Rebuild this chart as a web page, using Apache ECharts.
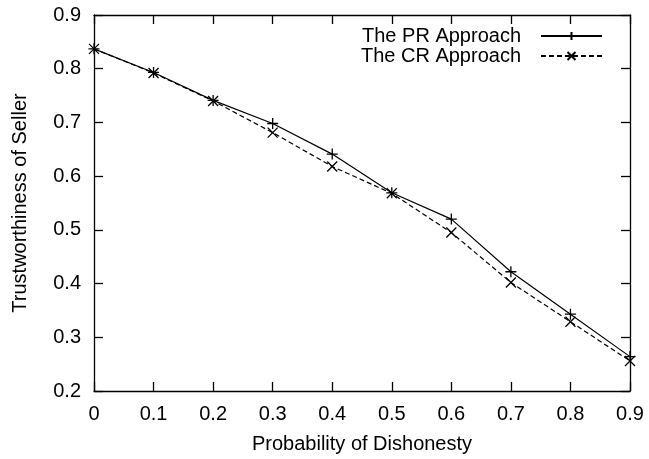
<!DOCTYPE html>
<html>
<head>
<meta charset="utf-8">
<script src="https://cdn.jsdelivr.net/npm/echarts@6/dist/echarts.min.js"></script>
<style>
html,body{margin:0;padding:0;background:#fff;}
#chart{width:649px;height:459px;}
</style>
</head>
<body>
<div id="chart"></div>
<script>
var xValues = [0, 0.1, 0.2, 0.3, 0.4, 0.5, 0.6, 0.7, 0.8, 0.9];
var prValues = [0.837, 0.793, 0.741, 0.698, 0.641, 0.569, 0.520, 0.422, 0.343, 0.264];
var crValues = [0.837, 0.792, 0.740, 0.681, 0.618, 0.568, 0.495, 0.402, 0.329, 0.256];
var seriesNames = ['The PR Approach', 'The CR Approach'];
var xTitle = 'Probability of Dishonesty';
var yTitle = 'Trustworthiness of Seller';

var FONT = 'Liberation Sans';
var FS = 20;
var plusPath = 'path://M5,0L5,10M0,5L10,5';
var crossPath = 'path://M0,0L10,10M10,0L0,10';

function pairs(vals) {
  return xValues.map(function (x, i) { return [x, vals[i]]; });
}
function fmt(v) {
  return v === 0 ? '0' : (Math.round(v * 10) / 10).toFixed(1);
}

var chart = echarts.init(document.getElementById('chart'), null, {renderer: 'canvas'});
var axisCommon = {
  axisLine: {show: true, onZero: false, lineStyle: {color: '#000', width: 1.3}},
  axisTick: {show: true, inside: true, length: 9, lineStyle: {color: '#000', width: 1.3}},
  splitLine: {show: false}
};
chart.setOption({
  animation: false,
  backgroundColor: '#fff',
  textStyle: {fontFamily: FONT, color: '#000'},
  grid: {left: 94, right: 19, top: 15, bottom: 68},
  legend: {
    orient: 'vertical',
    right: 41,
    top: 21,
    align: 'right',
    itemWidth: 61,
    itemHeight: 10,
    itemGap: 0,
    textStyle: {fontFamily: FONT, fontSize: FS, lineHeight: 19, color: '#000', padding: [0, 15, 0, 0]},
    data: seriesNames
  },
  xAxis: [
    Object.assign({
      type: 'value', min: 0, max: 0.9, interval: 0.1,
      name: xTitle, nameLocation: 'middle', nameGap: 43,
      nameTextStyle: {fontFamily: FONT, fontSize: FS, color: '#000'},
      axisLabel: {fontFamily: FONT, fontSize: FS, color: '#000', margin: 13, formatter: fmt}
    }, axisCommon),
    Object.assign({
      type: 'value', min: 0, max: 0.9, interval: 0.1, position: 'top',
      axisLabel: {show: false}
    }, axisCommon)
  ],
  yAxis: [
    Object.assign({
      type: 'value', min: 0.2, max: 0.9, interval: 0.1,
      name: yTitle, nameLocation: 'middle', nameGap: 64,
      nameTextStyle: {fontFamily: FONT, fontSize: FS, color: '#000'},
      axisLabel: {fontFamily: FONT, fontSize: FS, color: '#000', margin: 13, formatter: fmt}
    }, axisCommon),
    Object.assign({
      type: 'value', min: 0.2, max: 0.9, interval: 0.1, position: 'right',
      axisLabel: {show: false}
    }, axisCommon)
  ],
  series: [
    {
      name: seriesNames[0], type: 'line', data: pairs(prValues),
      symbol: plusPath, symbolSize: 11, showAllSymbol: true,
      lineStyle: {color: '#000', width: 1.2, type: 'solid'},
      itemStyle: {color: '#000', borderColor: '#000', borderWidth: 1.3}
    },
    {
      name: seriesNames[1], type: 'line', data: pairs(crValues),
      symbol: crossPath, symbolSize: 10, showAllSymbol: true,
      lineStyle: {color: '#000', width: 1.2, type: [5, 3]},
      itemStyle: {color: '#000', borderColor: '#000', borderWidth: 1.3}
    }
  ]
});
</script>
</body>
</html>
